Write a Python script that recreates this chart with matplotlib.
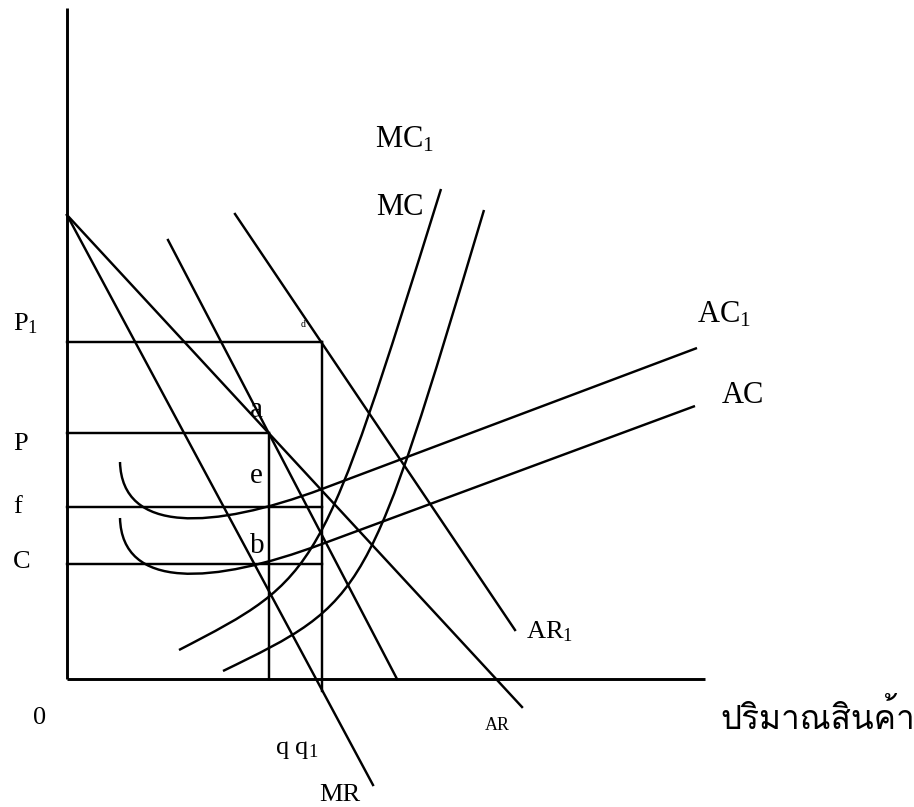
import matplotlib
matplotlib.use('Agg')
import matplotlib.pyplot as plt
from matplotlib.path import Path
from matplotlib.patches import PathPatch
from matplotlib import font_manager
from matplotlib.ft2font import FT2Font

# ---------------- data (quantity, price units) ----------------
AR_line = [(0.0, 46.4), (45.5, -2.8)]
MR_line = [(0.0, 46.4), (30.6, -10.6)]
MR1_line = [(10.1, 43.9), (33.0, 0.0)]
AR1_line = [(16.8, 46.5), (44.8, 4.9)]

P1_level, P_level, f_level, C_level = 33.7, 24.6, 17.2, 11.5
q_val, q1_val = 20.2, 25.5

# Bezier control points: start, ctrl, ctrl, end
MC_curve = [(11.2, 2.9), (25.3, 10.2), (25.3, 10.2), (37.4, 49.0)]
MC1_curve = [(15.6, 0.8), (30.0, 7.8), (30.0, 7.8), (41.7, 46.9)]
# U-shaped start (cubic) then straight rising part
AC1_curve = [(5.3, 21.7), (5.5, 14.5), (14.5, 14.9), (25.5, 19.0), (63.0, 33.1)]
AC_curve = [(5.3, 16.1), (5.5, 8.9), (14.5, 9.4), (25.5, 13.5), (62.8, 27.3)]

x_axis_end, y_axis_end = 63.8, 67.1

# ---------------- fonts ----------------
serif = 'Liberation Serif'
plt.rcParams['mathtext.fontset'] = 'custom'
plt.rcParams['mathtext.rm'] = serif
plt.rcParams['mathtext.it'] = serif

thai_family = None
for f in font_manager.fontManager.ttflist:
    try:
        if ord('ป') in FT2Font(f.fname).get_charmap():
            thai_family = f.name
            break
    except Exception:
        pass
thai_fams = [thai_family, 'DejaVu Sans'] if thai_family else ['DejaVu Sans']

# ---------------- figure ----------------
fig = plt.figure(figsize=(9.14, 8.07), dpi=100)
ax = fig.add_axes([0, 0, 1, 1])
ax.set_xlim(-6.7, 84.7)
ax.set_ylim(-12.8, 67.9)
ax.axis('off')

k = 'black'
lw = 1.75
# axes
ax.plot([0, 0], [0, y_axis_end], color=k, lw=2.1, solid_capstyle='butt')
ax.plot([0, x_axis_end], [0, 0], color=k, lw=2.1, solid_capstyle='butt')

for ln in (AR_line, MR_line, MR1_line, AR1_line):
    ax.plot([ln[0][0], ln[1][0]], [ln[0][1], ln[1][1]], color=k, lw=lw)

# guide lines
ax.plot([0, q1_val], [P1_level, P1_level], color=k, lw=lw)
ax.plot([0, q_val], [P_level, P_level], color=k, lw=lw)
ax.plot([0, q1_val], [f_level, f_level], color=k, lw=lw)
ax.plot([0, q1_val], [C_level, C_level], color=k, lw=lw)
ax.plot([q_val, q_val], [P_level, 0], color=k, lw=lw)
ax.plot([q1_val, q1_val], [P1_level, -1.2], color=k, lw=lw)

def bez(pts):
    verts = list(pts[:4])
    codes = [Path.MOVETO, Path.CURVE4, Path.CURVE4, Path.CURVE4]
    if len(pts) > 4:
        verts.append(pts[4])
        codes.append(Path.LINETO)
    ax.add_patch(PathPatch(Path(verts, codes), fill=False, color=k, lw=lw))

for c in (MC_curve, MC1_curve, AC1_curve, AC_curve):
    bez(c)

# ---------------- labels ----------------
def t(x, y, s, size=22, ha='left', va='baseline', fam=serif):
    ax.text(x, y, s, fontsize=size, ha=ha, va=va, family=fam, color=k)

t(30.8, 53.2, r'MC$_{\mathrm{1}}$')
t(30.9, 46.4, 'MC')
t(63.0, 35.7, r'AC$_{\mathrm{1}}$')
t(65.5, 27.6, 'AC')
t(-5.4, 34.9, r'P$_{\mathrm{1}}$', size=19)
t(-5.4, 22.9, 'P', size=19)
t(-5.4, 16.6, 'f', size=19)
t(-5.4, 11.1, 'C', size=19)
t(-2.7, -3.9, '0', size=19, ha='center', va='center')
t(23.0, -7.1, r'q q$_{\mathrm{1}}$', size=19, ha='center', va='center')
t(27.3, -11.6, 'MR', size=19, ha='center', va='center')
t(43.0, -4.6, 'AR', size=13, ha='center', va='center')
t(48.3, 4.7, r'AR$_{\mathrm{1}}$', size=19, ha='center', va='center')
t(18.3, 26.2, 'a', size=21)
t(18.3, 19.6, 'e', size=21)
t(18.3, 12.6, 'b', size=21)
t(23.4, 35.2, 'd', size=7)
ax.text(75.1, -3.9, 'ปริมาณสินค้า', fontsize=24, ha='center', va='center',
        family=thai_fams, color=k)

fig.savefig('out.png', dpi=100)
